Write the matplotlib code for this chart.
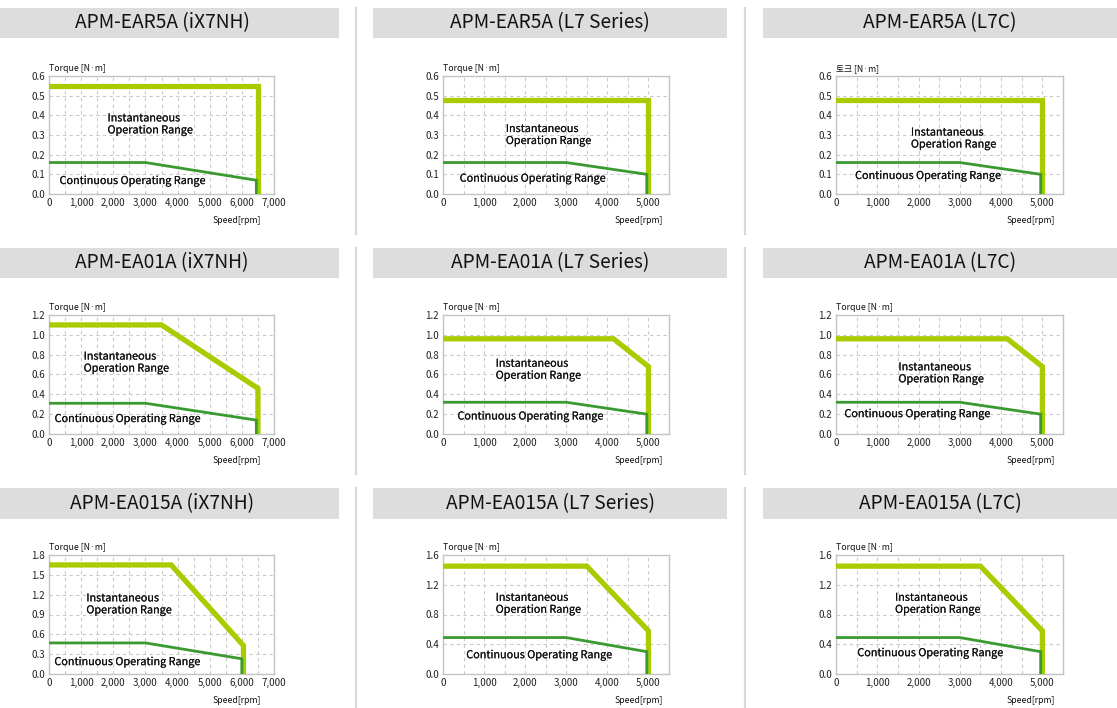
import numpy as np
import matplotlib
matplotlib.use("Agg")
import matplotlib.pyplot as plt
import matplotlib.patheffects as pe
from matplotlib.patches import Rectangle
from matplotlib.lines import Line2D
from matplotlib.ticker import MultipleLocator, FuncFormatter

plt.rcParams['font.family'] = ['Noto Sans CJK KR', 'DejaVu Sans']

# chart titles (row = motor, column = drive)
titles = [
    ["APM-EAR5A (iX7NH)", "APM-EAR5A (L7 Series)", "APM-EAR5A (L7C)"],
    ["APM-EA01A (iX7NH)", "APM-EA01A (L7 Series)", "APM-EA01A (L7C)"],
    ["APM-EA015A (iX7NH)", "APM-EA015A (L7 Series)", "APM-EA015A (L7C)"],
]
y_names = [
    ["Torque [N·m]", "Torque [N·m]", "토크 [N·m]"],
    ["Torque [N·m]", "Torque [N·m]", "Torque [N·m]"],
    ["Torque [N·m]", "Torque [N·m]", "Torque [N·m]"],
]
x_name = "Speed[rpm]"
inst_text = "Instantaneous\nOperation Range"
cont_text = "Continuous Operating Range"

# axis ranges
x_max = [7000, 5500, 5500]
x_tick_max = [7000, 5000, 5000]
y_max = [[0.6, 0.6, 0.6], [1.2, 1.2, 1.2], [1.8, 1.6, 1.6]]
y_step = [[0.1, 0.1, 0.1], [0.2, 0.2, 0.2], [0.3, 0.4, 0.4]]

# instantaneous torque curve (rpm, N·m)
inst_speed = [
    [[0, 6500, 6500], [0, 5000, 5000], [0, 5000, 5000]],
    [[0, 3500, 6500, 6500], [0, 4150, 5000, 5000], [0, 4150, 5000, 5000]],
    [[0, 3800, 6050, 6050], [0, 3500, 5000, 5000], [0, 3500, 5000, 5000]],
]
inst_torque = [
    [[0.55, 0.55, 0], [0.48, 0.48, 0], [0.48, 0.48, 0]],
    [[1.1, 1.1, 0.46, 0], [0.96, 0.96, 0.68, 0], [0.96, 0.96, 0.68, 0]],
    [[1.65, 1.65, 0.43, 0], [1.45, 1.45, 0.58, 0], [1.45, 1.45, 0.58, 0]],
]
# continuous torque curve
cont_speed = [
    [[0, 3000, 6450, 6450], [0, 3000, 4960, 4960], [0, 3000, 4960, 4960]],
    [[0, 3000, 6450, 6450], [0, 3000, 4960, 4960], [0, 3000, 4960, 4960]],
    [[0, 3000, 6000, 6000], [0, 3000, 4960, 4960], [0, 3000, 4960, 4960]],
]
cont_torque = [
    [[0.16, 0.16, 0.07, 0], [0.16, 0.16, 0.10, 0], [0.16, 0.16, 0.10, 0]],
    [[0.31, 0.31, 0.14, 0], [0.32, 0.32, 0.20, 0], [0.32, 0.32, 0.20, 0]],
    [[0.47, 0.47, 0.23, 0], [0.49, 0.49, 0.30, 0], [0.49, 0.49, 0.30, 0]],
]

# label positions in axes fraction
inst_pos = [[(0.26, 0.59), (0.278, 0.5), (0.33, 0.47)],
            [(0.154, 0.6), (0.233, 0.54), (0.275, 0.51)],
            [(0.166, 0.585), (0.233, 0.59), (0.26, 0.59)]]
cont_pos = [[(0.047, 0.11), (0.074, 0.13), (0.084, 0.153)],
            [(0.025, 0.126), (0.064, 0.147), (0.037, 0.167)],
            [(0.024, 0.10), (0.103, 0.158), (0.094, 0.175)]]
xlab_x = [0.94, 0.975, 0.966]

W, H = 1117, 708
fig = plt.figure(figsize=(W / 100, H / 100), dpi=100)

def box(l, t, r, b):
    return [l / W, 1 - b / H, (r - l) / W, (b - t) / H]

ax_cols = [(49, 274), (443, 669), (836, 1063)]
ax_rows = [(76, 194), (315, 434), (555, 674)]
bar_cols = [(-15, 339), (373, 727), (763, 1117)]
bar_rows = [(8, 38), (248, 278), (488, 519)]
sep_x = [356, 745]
sep_rows = [(8, 234), (248, 474), (488, 708)]

LIME = "#a9cc00"
GREEN = "#3a9a32"
GRID = "#c9c9c9"
heavier = [pe.withStroke(linewidth=0.1, foreground="#111111")]

for r in range(3):
    for x in sep_x:
        fig.add_artist(Line2D([x / W, x / W], [1 - sep_rows[r][0] / H, 1 - sep_rows[r][1] / H],
                              transform=fig.transFigure, color="#d9d9d9", lw=1.6))
    for c in range(3):
        bl, br = bar_cols[c]
        bt, bb = bar_rows[r]
        fig.add_artist(Rectangle((bl / W, 1 - bb / H), (br - bl) / W, (bb - bt) / H,
                                 transform=fig.transFigure, color="#dddddd", lw=0))
        fig.text((bl + br) / 2 / W, 1 - (bt + bb) / 2 / H, titles[r][c], ha="center", va="center",
                 fontsize=13.8, color="#111111")

        ax = fig.add_axes(box(ax_cols[c][0], ax_rows[r][0], ax_cols[c][1], ax_rows[r][1]))
        ax.plot(inst_speed[r][c], inst_torque[r][c], color=LIME, lw=3.8,
                solid_joinstyle="miter", zorder=3)
        ax.plot(cont_speed[r][c], cont_torque[r][c], color=GREEN, lw=2.0,
                solid_joinstyle="miter", zorder=4)
        ax.set_xlim(0, x_max[c])
        ax.set_ylim(0, y_max[r][c])
        ax.set_xticks(np.arange(0, x_tick_max[c] + 1, 1000))
        ax.xaxis.set_minor_locator(MultipleLocator(500))
        ax.yaxis.set_major_locator(MultipleLocator(y_step[r][c]))
        ax.xaxis.set_major_formatter(FuncFormatter(lambda v, p: f"{int(v):,}"))
        ax.yaxis.set_major_formatter(FuncFormatter(lambda v, p: f"{v:.1f}"))
        ax.grid(True, which="both", axis="x", color=GRID, ls=(0, (3, 3)), lw=0.8)
        ax.grid(True, which="major", axis="y", color=GRID, ls=(0, (3, 3)), lw=0.8)
        ax.set_axisbelow(True)
        for s in ax.spines.values():
            s.set_color("#c4c4c4")
            s.set_linewidth(1.0)
        ax.tick_params(which="both", length=0, pad=3, labelsize=7, labelcolor="#222222")

        ax.text(inst_pos[r][c][0], inst_pos[r][c][1], inst_text, transform=ax.transAxes,
                ha="left", va="center", fontsize=7.8, color="#111111", linespacing=1.25,
                zorder=5, path_effects=heavier)
        ax.text(cont_pos[r][c][0], cont_pos[r][c][1], cont_text, transform=ax.transAxes,
                ha="left", va="center", fontsize=7.8, color="#111111", zorder=5,
                path_effects=heavier)
        ax.annotate(y_names[r][c], xy=(0, 1), xycoords="axes fraction", xytext=(0, 2),
                    textcoords="offset points", ha="left", va="bottom", fontsize=6.3,
                    color="#111111")
        ax.annotate(x_name, xy=(xlab_x[c], 0), xycoords="axes fraction", xytext=(0, -19),
                    textcoords="offset points", ha="right", va="center", fontsize=6.3,
                    color="#111111")

fig.savefig("out.png", dpi=100)
